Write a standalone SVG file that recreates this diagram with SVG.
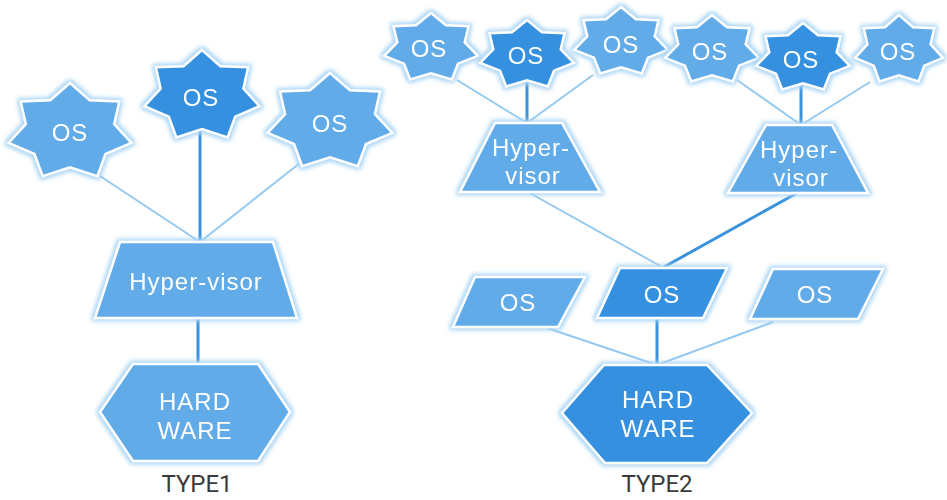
<svg xmlns="http://www.w3.org/2000/svg" width="947" height="500" viewBox="0 0 947 500">
<style>
.light{fill:#62abe9;stroke:#ffffff;stroke-width:2.5;stroke-linejoin:miter}
.dark{fill:#3491e0;stroke:#ffffff;stroke-width:2.5;stroke-linejoin:miter}
.lab{font-family:"Liberation Sans","Noto Sans",sans-serif;font-size:24px;letter-spacing:1px;fill:#ffffff;text-anchor:middle}
.cap{font-family:"Roboto","Liberation Sans",sans-serif;font-size:24px;fill:#3a3a3a;text-anchor:middle}
.cl{stroke:#94c9f1;stroke-width:2;fill:none}
.cd{stroke:#3b92dc;stroke-width:3;fill:none}
</style>
<defs>
<filter id="glow" x="-20%" y="-20%" width="140%" height="140%">
<feMorphology in="SourceAlpha" operator="dilate" radius="1.5" result="d"/>
<feGaussianBlur in="d" stdDeviation="2" result="b"/>
<feFlood flood-color="#a9d5f6"/>
<feComposite in2="b" operator="in" result="g"/>
<feMerge><feMergeNode in="g"/><feMergeNode in="SourceGraphic"/></feMerge>
</filter>
</defs>
<rect width="947" height="500" fill="#ffffff"/>

<g id="connectors">
<line class="cl" x1="100" y1="176" x2="200" y2="242"/>
<line class="cd" x1="200" y1="130" x2="200" y2="242"/>
<line class="cl" x1="300" y1="163" x2="200" y2="242"/>
<line class="cd" x1="198" y1="318" x2="198" y2="365"/>

<line class="cl" x1="457" y1="80" x2="527" y2="123"/>
<line class="cd" x1="527" y1="80" x2="527" y2="123"/>
<line class="cl" x1="593" y1="75" x2="527" y2="123"/>
<line class="cl" x1="737" y1="80" x2="801" y2="125"/>
<line class="cd" x1="801" y1="85" x2="801" y2="125"/>
<line class="cl" x1="870" y1="82" x2="801" y2="125"/>

<line class="cl" x1="528" y1="192" x2="662" y2="267"/>
<line class="cd" x1="797" y1="193" x2="664" y2="267"/>

<line class="cl" x1="547" y1="328" x2="657" y2="365"/>
<line class="cd" x1="657" y1="318" x2="657" y2="365"/>
<line class="cl" x1="773" y1="322" x2="657" y2="365"/>
</g>

<g id="t1-os1" filter="url(#glow)"><polygon class="light" points="70,83 89.7,100.2 119.3,101.4 114.2,124.1 131.4,142.9 105.5,154 97.3,176.1 70,167.3 42.7,176.1 34.5,154 8.6,142.9 25.8,124.1 20.7,101.4 50.3,100.2"/><text class="lab" x="70" y="141">OS</text></g>
<g id="t1-os2" filter="url(#glow)"><polygon class="dark" points="202,50 220.4,66.2 248.1,67.3 243.4,88.6 259.5,106.2 235.2,116.6 227.6,137.4 202,129.1 176.4,137.4 168.8,116.6 144.5,106.2 160.6,88.6 155.9,67.3 183.6,66.2"/><text class="lab" x="201" y="106">OS</text></g>
<g id="t1-os3" filter="url(#glow)"><polygon class="light" points="330,73 350,90.2 380,91.4 374.9,114.1 392.4,132.9 366,144 357.8,166.1 330,157.3 302.2,166.1 294,144 267.6,132.9 285.1,114.1 280,91.4 310,90.2"/><text class="lab" x="330" y="132">OS</text></g>

<g id="t1-hypervisor" filter="url(#glow)"><polygon class="light" points="120,242 273,242 297,318 95,318"/><text class="lab" x="196" y="290">Hyper-visor</text></g>
<g id="t1-hardware" filter="url(#glow)"><polygon class="light" points="133,364 258,364 290,412 258,461 133,461 100,412"/><text class="lab" x="195" y="410">HARD</text><text class="lab" x="195" y="439">WARE</text></g>
<g id="t1-label"><text class="cap" x="197" y="492">TYPE1</text></g>

<g id="t2-os1" filter="url(#glow)"><polygon class="light" points="431,13 446,25.3 468.5,26.2 464.7,42.4 477.8,55.8 458,63.7 451.8,79.5 431,73.2 410.2,79.5 404,63.7 384.2,55.8 397.3,42.4 393.5,26.2 416,25.3"/><text class="lab" x="429" y="57">OS</text></g>
<g id="t2-os2" filter="url(#glow)"><polygon class="dark" points="527,20 542,32.3 564.5,33.2 560.7,49.4 573.8,62.8 554,70.7 547.8,86.5 527,80.2 506.2,86.5 500,70.7 480.2,62.8 493.3,49.4 489.5,33.2 512,32.3"/><text class="lab" x="526" y="64">OS</text></g>
<g id="t2-os3" filter="url(#glow)"><polygon class="light" points="621,7 636,19.3 658.5,20.2 654.7,36.4 667.8,49.8 648,57.7 641.8,73.5 621,67.2 600.2,73.5 594,57.7 574.2,49.8 587.3,36.4 583.5,20.2 606,19.3"/><text class="lab" x="621" y="53">OS</text></g>
<g id="t2-os4" filter="url(#glow)"><polygon class="light" points="712,15 727,27.3 749.5,28.2 745.7,44.4 758.8,57.8 739,65.7 732.8,81.5 712,75.2 691.2,81.5 685,65.7 665.2,57.8 678.3,44.4 674.5,28.2 697,27.3"/><text class="lab" x="710" y="60">OS</text></g>
<g id="t2-os5" filter="url(#glow)"><polygon class="dark" points="803,23 818,35.3 840.5,36.2 836.7,52.4 849.8,65.8 830,73.7 823.8,89.5 803,83.2 782.2,89.5 776,73.7 756.2,65.8 769.3,52.4 765.5,36.2 788,35.3"/><text class="lab" x="801" y="68">OS</text></g>
<g id="t2-os6" filter="url(#glow)"><polygon class="light" points="899,15 913.1,27.3 934.2,28.2 930.6,44.4 942.9,57.8 924.3,65.7 918.5,81.5 899,75.2 879.5,81.5 873.7,65.7 855.1,57.8 867.4,44.4 863.8,28.2 884.9,27.3"/><text class="lab" x="898" y="60">OS</text></g>

<g id="t2-hypervisor1" filter="url(#glow)"><polygon class="light" points="495,123 562,123 600,192 460,192"/><text class="lab" x="531" y="156">Hyper-</text><text class="lab" x="533" y="184">visor</text></g>
<g id="t2-hypervisor2" filter="url(#glow)"><polygon class="light" points="766,125 832,125 868,193 728,193"/><text class="lab" x="799" y="158">Hyper-</text><text class="lab" x="801" y="186">visor</text></g>

<g id="t2-os7" filter="url(#glow)"><polygon class="light" points="475,277 585,277 558,327 453,327"/><text class="lab" x="518" y="311">OS</text></g>
<g id="t2-os8" filter="url(#glow)"><polygon class="dark" points="620,268 727,268 703,318 597,318"/><text class="lab" x="662" y="303">OS</text></g>
<g id="t2-os9" filter="url(#glow)"><polygon class="light" points="773,269 883,269 858,319 750,319"/><text class="lab" x="815" y="303">OS</text></g>

<g id="t2-hardware" filter="url(#glow)"><polygon class="dark" points="604,365 707,365 752,413 707,463 605,463 562,413"/><text class="lab" x="658" y="408">HARD</text><text class="lab" x="658" y="437">WARE</text></g>
<g id="t2-label"><text class="cap" x="657" y="492">TYPE2</text></g>
</svg>
